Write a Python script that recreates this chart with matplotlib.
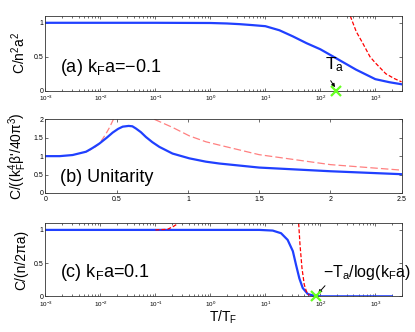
import matplotlib
matplotlib.use("Agg")
import matplotlib.pyplot as plt
from matplotlib.ticker import LogLocator, NullFormatter

plt.rcParams['font.family'] = ['Liberation Sans', 'DejaVu Sans']
plt.rcParams['mathtext.fontset'] = 'custom'
plt.rcParams['mathtext.rm'] = 'Liberation Sans'
plt.rcParams['mathtext.it'] = 'Liberation Sans'
plt.rcParams['mathtext.default'] = 'regular'

# (a) kFa = -0.1, log T/TF
a_T = [1e-3, 1e-2, 1e-1, 1, 2, 3.4, 6, 10, 18, 31.6, 56, 100, 192, 300, 446, 1000, 1800, 3000]
a_C = [1, 1, 1, 0.997, 0.99, 0.98, 0.965, 0.95, 0.89, 0.80, 0.70, 0.61, 0.48, 0.39, 0.31, 0.17, 0.125, 0.095]
a_hiT = [350, 450, 590, 800, 1000, 1550, 2200, 3000]
a_hiC = [1.1, 0.87, 0.70, 0.50, 0.41, 0.25, 0.18, 0.13]
a_Ta = 192

# (b) unitarity, linear T/TF
b_T = [0, 0.1, 0.19, 0.285, 0.33, 0.378, 0.43, 0.472, 0.51, 0.542, 0.584, 0.61, 0.635, 0.67,
       0.705, 0.75, 0.8, 0.892, 1.01, 1.126, 1.22, 1.5, 2.0, 2.5]
b_C = [1.0, 1.0, 1.03, 1.12, 1.22, 1.34, 1.50, 1.64, 1.74, 1.80, 1.82, 1.81, 1.75, 1.65,
       1.52, 1.38, 1.25, 1.07, 0.94, 0.85, 0.80, 0.69, 0.59, 0.51]
b_lowT = [0.285, 0.33, 0.367, 0.40, 0.425, 0.45, 0.477]
b_lowC = [1.12, 1.20, 1.30, 1.46, 1.61, 1.78, 2.0]
b_hiT = [0.764, 0.892, 1.01, 1.126, 1.22, 1.5, 2.0, 2.5]
b_hiC = [2.0, 1.78, 1.55, 1.39, 1.30, 1.04, 0.77, 0.62]

# (c) kFa = 0.1, log T/TF
c_T = [1e-3, 1e-1, 1, 7.8, 13.6, 19.3, 25.4, 31.6, 36.2, 41.5, 47.8, 59, 78, 100, 2000]
c_C = [1, 1, 1, 1.0, 0.99, 0.95, 0.85, 0.68, 0.47, 0.27, 0.125, 0.035, 0.005, 0, 0]
c_lowT = [0.1, 0.167, 0.21, 0.25]
c_lowC = [1.0, 1.01, 1.05, 1.09]
c_hiT = [40.3, 42.7, 46.4, 51, 56, 63]
c_hiC = [1.1, 0.77, 0.42, 0.175, 0.07, 0.015]
c_Tx = 83

log_ticks = [1e-3, 1e-2, 1e-1, 1, 1e1, 1e2, 1e3]
y_ticks_ac = [0, 0.5, 1]
y_labels_ac = ['0', '0.5', '1']
b_xticks = [0, 0.5, 1, 1.5, 2, 2.5]
b_xlabels = ['0', '0.5', '1', '1.5', '2', '2.5']
b_yticks = [0, 0.5, 1, 1.5, 2]
b_ylabels = ['0', '0.5', '1', '1.5', '2']

blue = '#2040ff'
green = '#66ff22'

fig = plt.figure(figsize=(4.15, 3.32), dpi=100)
ax_a = fig.add_axes([0.1096, 0.7268, 0.858, 0.225])
ax_b = fig.add_axes([0.1096, 0.4187, 0.858, 0.222])
ax_c = fig.add_axes([0.1096, 0.1075, 0.858, 0.220])

def style(ax, logx):
    for s in ax.spines.values():
        s.set_linewidth(0.6)
        s.set_color('#333333')
    ax.tick_params(which='both', direction='in', top=True, right=True,
                   width=0.5, colors='#333333', labelcolor='black')
    ax.tick_params(which='major', length=2.5, labelsize=5)
    ax.tick_params(which='minor', length=1.3)
    ax.tick_params(axis='x', pad=2.2)
    ax.tick_params(axis='y', pad=1.5)
    if logx:
        ax.set_xscale('log')
        ax.set_xlim(1e-3, 3e3)
        ax.set_xticks(log_ticks)
        ax.xaxis.set_minor_locator(LogLocator(base=10, subs=range(2, 10), numticks=20))
        ax.xaxis.set_minor_formatter(NullFormatter())
        ax.tick_params(axis='x', labelsize=4.5)
        ax.set_ylim(0, 1.1)
        ax.set_yticks(y_ticks_ac)
        ax.set_yticklabels(y_labels_ac)

# panel a
style(ax_a, True)
ax_a.plot(a_T, a_C, color=blue, lw=1.6)
ax_a.plot(a_hiT, a_hiC, color='red', lw=0.9, dashes=(3.2, 1.6))
ax_a.plot([a_Ta], [0], 'x', color=green, ms=7, mew=1.6, clip_on=False, zorder=5)
ax_a.text(0.041, 0.254, '(a) k$_F$a=−0.1', transform=ax_a.transAxes, fontsize=13, va='baseline')
ax_a.text(0.785, 0.29, 'T$_a$', transform=ax_a.transAxes, fontsize=12.5, va='baseline')
ax_a.annotate('', xy=(0.813, 0.046), xytext=(0.801, 0.134), xycoords='axes fraction',
              arrowprops=dict(arrowstyle='-|>', color='black', lw=0.7, mutation_scale=5,
                              shrinkA=0, shrinkB=0))
ax_a.set_ylabel('C/n$^2$a$^2$', fontsize=10, labelpad=4)

# panel b
style(ax_b, False)
ax_b.set_xlim(0, 2.5)
ax_b.set_ylim(0, 2)
ax_b.set_xticks(b_xticks)
ax_b.set_xticklabels(b_xlabels)
ax_b.set_yticks(b_yticks)
ax_b.set_yticklabels(b_ylabels)
ax_b.plot(b_lowT, b_lowC, color='#ff8080', lw=0.9, dashes=(5, 2.5))
ax_b.plot(b_hiT, b_hiC, color='#ff8080', lw=0.9, dashes=(6, 2.5))
ax_b.plot(b_T, b_C, color=blue, lw=1.6)
ax_b.text(0.041, 0.153, '(b) Unitarity', transform=ax_b.transAxes, fontsize=13, va='baseline')
ax_b.set_ylabel("C/((k$_F^4$β'/40π$^3$)", fontsize=10, labelpad=3)

# panel c
style(ax_c, True)
ax_c.plot(c_T, c_C, color=blue, lw=1.6)
ax_c.plot(c_lowT, c_lowC, color='red', lw=0.9, dashes=(3.2, 1.6))
ax_c.plot(c_hiT, c_hiC, color='red', lw=0.9, dashes=(3.2, 1.6))
ax_c.plot([c_Tx], [0], 'x', color=green, ms=7, mew=1.6, clip_on=False, zorder=5)
ax_c.text(0.041, 0.268, '(c) k$_F$a=0.1', transform=ax_c.transAxes, fontsize=13, va='baseline')
ax_c.text(0.778, 0.264, '−T$_a$/log(k$_F$a)', transform=ax_c.transAxes, fontsize=11.5,
          va='baseline', clip_on=False)
ax_c.annotate('', xy=(0.766, 0.041), xytext=(0.785, 0.145), xycoords='axes fraction',
              arrowprops=dict(arrowstyle='-|>', color='black', lw=0.7, mutation_scale=5,
                              shrinkA=0, shrinkB=0))
ax_c.set_ylabel('C/(n/2πa)', fontsize=10, labelpad=4)
ax_c.set_xlabel('T/T$_F$', fontsize=10, labelpad=0)

fig.savefig('out.png', dpi=100)
